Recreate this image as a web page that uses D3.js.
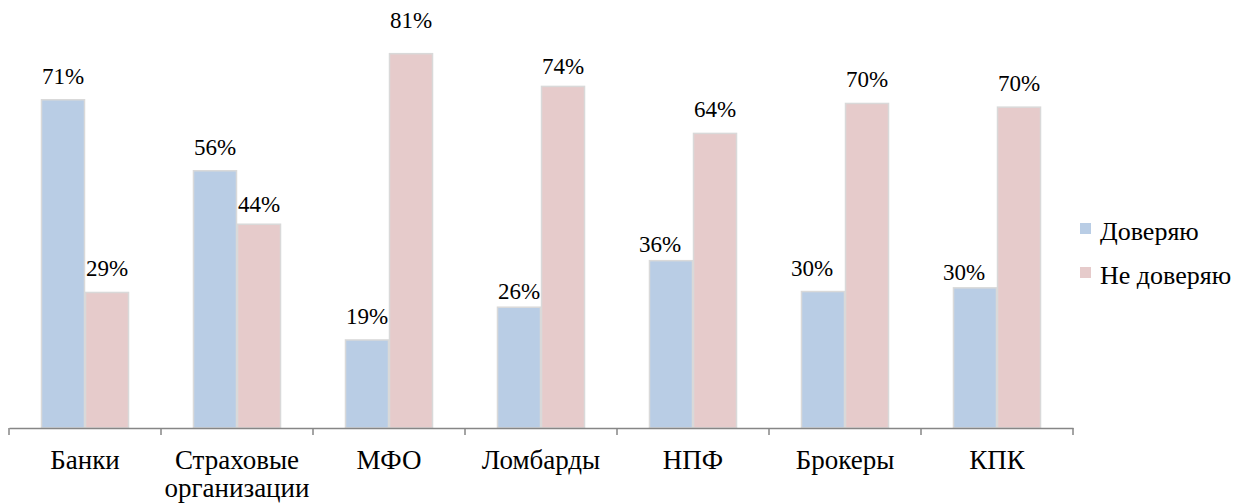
<!DOCTYPE html>
<html>
<head>
<meta charset="utf-8">
<script src="https://cdn.jsdelivr.net/npm/d3@7"></script>
<style>
    body { margin: 0; background: #fff; }
    svg text, svg tspan { font-family: 'Liberation Serif', 'Tinos', 'Nimbus Roman', 'FreeSerif' !important; }
</style>
</head>
<body>
<script>
const categories = ["Банки", "Страховые\nорганизации", "МФО", "Ломбарды", "НПФ", "Брокеры", "КПК"];
const seriesNames = ["Доверяю", "Не доверяю"];
const trust = [71.2, 55.8, 19.1, 26.2, 36.3, 29.6, 30.4];
const distrust = [29.4, 44.2, 81.2, 74.1, 63.9, 70.4, 69.6];
const colors = ["#b9cde5", "#e6cbcb"];
// small nudges for the labels, as Excel placed them
const trustShiftX = [0, 0, 0, 0, -11, -11, -11];
const trustShiftY = [0, 0, 0, 8, 7, 0, 8];
const distrustShiftY = [0, 4, -10, 4, 0, 0, 0];

const width = 1248, height = 504;
const baseY = 428;

const svg = d3.select("body")
    .append("svg")
    .attr("width", width)
    .attr("height", height);

const x0 = d3.scaleBand()
    .domain(categories)
    .range([9, 1073])
    .padding(0);

const x1 = d3.scaleBand()
    .domain(seriesNames)
    .range([0, x0.bandwidth()])
    .paddingOuter(0.727)
    .paddingInner(0);

const y = d3.scaleLinear()
    .domain([0, 100])
    .range([baseY, baseY - 461]);

const data = categories.map((c, i) => ({
    category: c,
    values: [
        { series: seriesNames[0], value: trust[i], dx: trustShiftX[i], dy: trustShiftY[i] },
        { series: seriesNames[1], value: distrust[i], dx: 0, dy: distrustShiftY[i] }
    ]
}));

const groups = svg.append("g")
    .selectAll("g")
    .data(data)
    .enter()
    .append("g")
    .attr("transform", d => "translate(" + x0(d.category) + ",0)");

groups.selectAll("rect")
    .data(d => d.values)
    .enter()
    .append("rect")
    .attr("x", d => x1(d.series) + 0.5)
    .attr("y", d => y(d.value))
    .attr("width", x1.bandwidth() - 1)
    .attr("height", d => baseY - y(d.value))
    .attr("fill", (d, i) => colors[i])
    .attr("stroke", "#d9d9d9")
    .attr("stroke-width", 1.5);

groups.selectAll(".label")
    .data(d => d.values)
    .enter()
    .append("text")
    .attr("class", "label")
    .attr("x", d => x1(d.series) + x1.bandwidth() / 2 + d.dx)
    .attr("y", d => y(d.value) - 16 + d.dy)
    .attr("text-anchor", "middle")
    .style("font-size", "23px")
    .text(d => Math.round(d.value) + "%");

// x axis
const axis = svg.append("g")
    .attr("transform", "translate(0," + baseY + ")")
    .call(d3.axisBottom(x0).tickSize(0).tickFormat(""));

axis.select(".domain")
    .attr("stroke", "#868686")
    .attr("stroke-width", 1.5);

axis.selectAll(".tick").remove();

const tickPos = categories.map(c => x0(c)).concat([x0.range()[1]]);
axis.selectAll(".sep")
    .data(tickPos)
    .enter()
    .append("line")
    .attr("class", "sep")
    .attr("x1", d => d)
    .attr("x2", d => d)
    .attr("y1", 0)
    .attr("y2", 7)
    .attr("stroke", "#868686")
    .attr("stroke-width", 1.5);

const catLabels = svg.append("g")
    .selectAll("text")
    .data(categories)
    .enter()
    .append("text")
    .attr("x", d => x0(d) + x0.bandwidth() / 2)
    .attr("y", 469)
    .attr("text-anchor", "middle")
    .style("font-size", "27px");

catLabels.selectAll("tspan")
    .data(d => d.split("\n"))
    .enter()
    .append("tspan")
    .attr("x", function () { return d3.select(this.parentNode).attr("x"); })
    .attr("dy", (d, i) => i === 0 ? 0 : 28)
    .text(d => d);

// legend
const legend = svg.append("g")
    .attr("transform", "translate(1080,223)");

const items = legend.selectAll("g")
    .data(seriesNames)
    .enter()
    .append("g")
    .attr("transform", (d, i) => "translate(0," + i * 44 + ")");

items.append("rect")
    .attr("width", 11)
    .attr("height", 11)
    .attr("fill", (d, i) => colors[i]);

items.append("text")
    .attr("x", 20)
    .attr("y", 17)
    .style("font-size", "26px")
    .text(d => d);
</script>
</body>
</html>
